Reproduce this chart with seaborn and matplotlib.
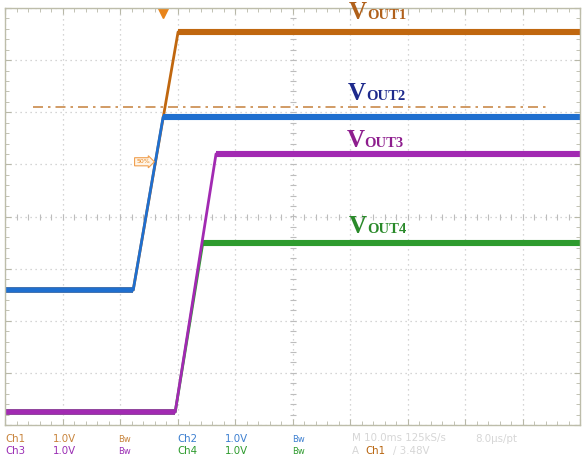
import numpy as np
import pandas as pd
import matplotlib
matplotlib.use('Agg')
import matplotlib.pyplot as plt
import matplotlib.transforms as mtransforms
import seaborn as sns

# scope traces, x in divisions (10 ms/div), y in divisions (1 V/div, centre = 0)
t_ch1 = [0, 2.23, 3.01, 10]
v_ch1 = [-1.41, -1.41, 3.54, 3.54]
t_ch2 = [0, 2.23, 2.75, 10]
v_ch2 = [-1.41, -1.41, 1.91, 1.91]
t_ch3 = [0, 2.96, 3.67, 10]
v_ch3 = [-3.75, -3.75, 1.20, 1.20]
t_ch4 = [0, 2.96, 3.44, 10]
v_ch4 = [-3.75, -3.75, -0.51, -0.51]

trig_level = 2.10
trig_time = 2.75

labels = ['OUT1', 'OUT2', 'OUT3', 'OUT4']
label_x = [5.98, 5.96, 5.94, 5.98]
label_y = [3.79, 2.23, 1.33, -0.32]

trace_col = {'Ch1': '#C0670F', 'Ch2': '#1F6FCF', 'Ch3': '#A22AB2', 'Ch4': '#2E9B2E'}
label_col = ['#B0601A', '#1E2A8C', '#8E1E8E', '#2A8A2A']

df = pd.concat([
    pd.DataFrame({'t': t_ch1, 'v': v_ch1, 'ch': 'Ch1'}),
    pd.DataFrame({'t': t_ch2, 'v': v_ch2, 'ch': 'Ch2'}),
    pd.DataFrame({'t': t_ch4, 'v': v_ch4, 'ch': 'Ch4'}),
    pd.DataFrame({'t': t_ch3, 'v': v_ch3, 'ch': 'Ch3'}),
])

sns.set_style('white')
fig = plt.figure(figsize=(5.82, 4.57), dpi=100)
ax = fig.add_axes([5/582, 1-425/457, 575/582, 417/457])

gc = '#C8C8C8'
ax.set_xlim(0, 10)
ax.set_ylim(-4, 4)
ax.set_xticks(np.arange(0, 11, 1))
ax.set_yticks(np.arange(-4, 5, 1))
ax.set_xticks(np.arange(0, 10.01, 0.2), minor=True)
ax.set_yticks(np.arange(-4, 4.01, 0.2), minor=True)
ax.tick_params(which='both', direction='in', labelbottom=False, labelleft=False,
               top=True, right=True, bottom=True, left=True, color='#B8B8A8')
ax.tick_params(which='major', length=4)
ax.tick_params(which='minor', length=3)
ax.grid(True, which='major', ls=(0, (1, 3)), color=gc, lw=0.9)
for s in ax.spines.values():
    s.set_color('#BDBDAA')
    s.set_linewidth(1.0)

# centre crosshair ticks
cx = np.arange(0, 10.01, 0.2)
cy = np.arange(-4, 4.01, 0.2)
ax.plot(cx, np.zeros_like(cx), ls='none', marker='|', ms=5, color='#BDBDBD', mew=0.8)
ax.plot(np.full_like(cy, 5), cy, ls='none', marker='_', ms=5, color='#BDBDBD', mew=0.8)

# trigger level
ax.plot([0.49, 9.48], [trig_level, trig_level], ls=(0, (6, 3, 1.5, 3)), color='#C98A4A', lw=1.2)

# traces: thin ramps, thick (noisy) flat levels
for ch in ['Ch1', 'Ch2', 'Ch4', 'Ch3']:
    sub = df[df.ch == ch].reset_index(drop=True)
    sns.lineplot(data=sub, x='t', y='v', color=trace_col[ch], sort=False,
                 estimator=None, lw=2.0, ax=ax)
    sns.lineplot(data=sub.iloc[:2], x='t', y='v', color=trace_col[ch], sort=False,
                 estimator=None, lw=4.0, solid_capstyle='butt', ax=ax)
    sns.lineplot(data=sub.iloc[2:], x='t', y='v', color=trace_col[ch], sort=False,
                 estimator=None, lw=4.4, solid_capstyle='butt', ax=ax)
ax.set_xlabel('')
ax.set_ylabel('')

# trigger marker and 50% tag
ax.plot([trig_time], [3.9], marker='v', color='#E8841A', ms=7, ls='none')
ax.text(2.4, 1.05, '50%', fontsize=4.5, color='#E8841A', ha='center', va='center',
        bbox=dict(boxstyle='rarrow,pad=0.25', fc='#FFF4E6', ec='#F0A050', lw=0.8))

for lab, x, y, c in zip(labels, label_x, label_y, label_col):
    ax.text(x, y, 'V', fontsize=18, family='Liberation Serif', weight='bold', color=c,
            ha='left', va='baseline')
    tr = mtransforms.offset_copy(ax.transData, fig=fig, x=13, y=0, units='points')
    ax.text(x, y, lab, fontsize=10.5, family='Liberation Serif', weight='bold', color=c,
            ha='left', va='baseline', transform=tr)

# status lines
r1 = 1 - 441.5/457
r2 = 1 - 454/457
fs = 7.4
grey = '#D6D6D6'
status = [
    (5, r1, 'Ch1', '#C8843C', fs), (53, r1, '1.0V', '#C8843C', fs), (118, r1, 'Bw', '#C8843C', 6),
    (177, r1, 'Ch2', '#3C7FD0', fs), (225, r1, '1.0V', '#3C7FD0', fs), (292, r1, 'Bw', '#3C7FD0', 6),
    (352, r1, 'M 10.0ms 125kS/s', grey, fs), (475, r1, '8.0\u00b5s/pt', grey, fs),
    (5, r2, 'Ch3', '#9A2EB4', fs), (53, r2, '1.0V', '#9A2EB4', fs), (118, r2, 'Bw', '#9A2EB4', 6),
    (177, r2, 'Ch4', '#2E9B2E', fs), (225, r2, '1.0V', '#2E9B2E', fs), (292, r2, 'Bw', '#2E9B2E', 6),
    (352, r2, 'A', grey, fs), (365, r2, 'Ch1', '#B8650F', fs), (393, r2, '/ 3.48V', grey, fs),
]
for x, y, s, c, f in status:
    fig.text(x/582, y, s, color=c, fontsize=f, ha='left', va='baseline')

fig.savefig('out.png', dpi=100)
